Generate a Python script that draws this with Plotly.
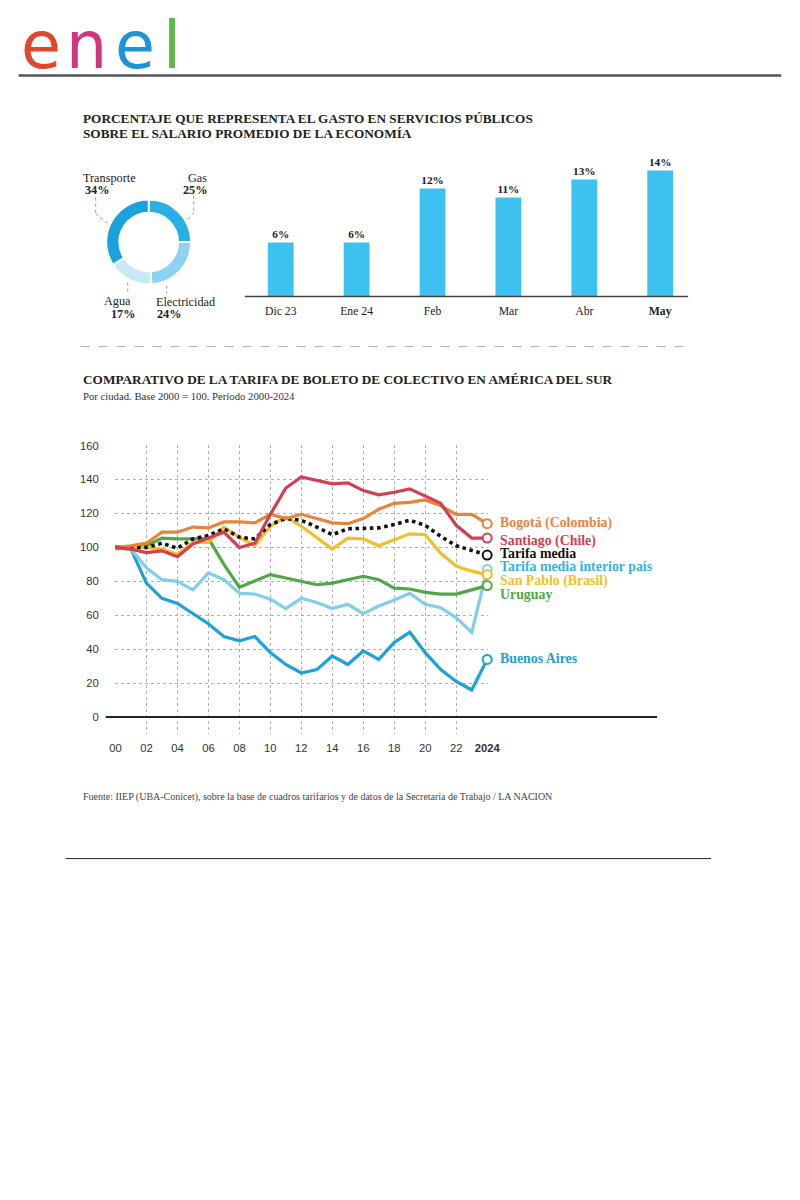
import plotly.graph_objects as go

W, H = 800, 1200
# measured screen transform of the rendered page (screen = S*fig + O)
SX, OX = 0.978, 4.4
SY, OY = 0.995, 5.4
def px(x): return ((x - OX) / SX) / W
def py(y): return 1 - ((y - OY) / SY) / H
FS = 1.02  # font compensation for horizontal squeeze

# ---------------- data ----------------
donut_labels = ["Gas", "Electricidad", "Agua", "Transporte"]
donut_values = [25, 24, 17, 34]
donut_colors = ["#2AAEE6", "#8DD3F1", "#C8E8F6", "#1BA2DE"]

bar_months = ["Dic 23", "Ene 24", "Feb", "Mar", "Abr", "May"]
bar_ticktext = ["Dic 23", "Ene 24", "Feb", "Mar", "Abr", "<b>May</b>"]
bar_values = [6, 6, 12, 11, 13, 14]

years = list(range(2000, 2025))
year_tickvals = list(range(2000, 2025, 2))
year_ticktext = ["00", "02", "04", "06", "08", "10", "12", "14", "16", "18", "20", "22", "<b>2024</b>"]

buenos_aires = [100, 99, 79, 70, 67, 61, 55, 47.5, 45, 47.5, 38, 31, 26, 28, 36, 31, 39, 34, 44, 50, 38, 28, 21, 16, 34]
interior_pais = [100, 99, 88, 81, 80, 75, 85, 81, 73, 72.5, 69.5, 64, 70, 67.5, 64, 66.5, 61, 65.5, 69, 73, 66.5, 64.5, 58.5, 50, 87]
uruguay = [100, 100, 101, 105.5, 105, 105, 105.5, 90, 76.5, 80, 84, 82, 80, 78, 79, 81, 83, 81, 76, 75.5, 73.5, 72.5, 72.5, 75, 77.5]
san_pablo = [99, 100, 100, 99, 96, 103, 103, 112, 106, 101, 112.5, 118, 112.5, 106, 99, 105.5, 105, 101, 104.5, 108, 107.5, 96.5, 89, 86, 84]
tarifa_media = [100, 100, 100, 102.5, 99.5, 105, 107, 111, 106, 105, 113.5, 117, 116, 112, 107.5, 111, 111.5, 111.5, 113.5, 116, 113, 106.5, 101, 98.5, 95.5]
bogota = [100, 101, 102.5, 109, 109, 112, 111.5, 115, 115, 114.5, 119.5, 117, 119.5, 117, 114.5, 114, 117, 122.5, 126, 126.5, 128, 124.5, 119.5, 119.5, 114]
santiago = [100, 99, 97, 98, 94.5, 102, 105.5, 109, 100, 102.5, 119.5, 135, 141.5, 139.5, 137.5, 138, 133.5, 131, 132.5, 134.5, 130.5, 126, 113, 105.5, 105.5]

series_names = ["Buenos Aires", "Tarifa media interior país", "Uruguay", "San Pablo (Brasil)",
                "Tarifa media", "Bogotá (Colombia)", "Santiago (Chile)"]
series_values = [buenos_aires, interior_pais, uruguay, san_pablo, tarifa_media, bogota, santiago]
series_line_colors = ["#1DA1D9", "#80CDEE", "#4FA745", "#F1BE2C", "#111111", "#E8843A", "#D33F4F"]
series_label_colors = ["#1DA1D9", "#3AAFDF", "#4FA745", "#F1BE2C", "#111111", "#E8843A", "#D33F4F"]
series_dash = ["solid", "solid", "solid", "solid", "dot", "solid", "solid"]
label_pixel_y = [658, 566, 594, 580, 553, 522, 540]

SERIF = "Liberation Serif"
SANS = "Liberation Sans"

fig = go.Figure()

# ---------------- donut ----------------
fig.add_trace(go.Pie(
    labels=donut_labels, values=donut_values, hole=0.69, sort=False,
    direction="clockwise", rotation=0,
    marker=dict(colors=donut_colors, line=dict(color="white", width=2)),
    textinfo="none", hoverinfo="skip", showlegend=False,
    domain=dict(x=[px(105.5), px(190.5)], y=[py(284), py(199)]),
))

# ---------------- bars ----------------
fig.add_trace(go.Bar(
    x=bar_months, y=bar_values, xaxis="x2", yaxis="y2",
    marker=dict(color="#3DC1F0", line=dict(width=0)),
    texttemplate="<b>%{y}%</b>", textposition="outside",
    textfont=dict(family=SERIF, size=11 * FS, color="#1a1a1a"),
    cliponaxis=False, showlegend=False, hoverinfo="skip",
))

# ---------------- lines ----------------
for name, vals, col, dash in zip(series_names, series_values, series_line_colors, series_dash):
    fig.add_trace(go.Scatter(
        x=years, y=vals, mode="lines", name=name,
        line=dict(color=col, width=3.2 if dash == "solid" else 3.6, dash=dash),
        showlegend=False, hoverinfo="skip", cliponaxis=False,
    ))
for name, vals, col in zip(series_names, series_values, series_line_colors):
    fig.add_trace(go.Scatter(
        x=[years[-1]], y=[vals[-1]], mode="markers",
        marker=dict(size=9, color="white", line=dict(color=col, width=2)),
        showlegend=False, hoverinfo="skip", cliponaxis=False,
    ))

annotations = []
for name, col, ly in zip(series_names, series_label_colors, label_pixel_y):
    annotations.append(dict(
        text=f"<b>{name}</b>", x=px(497), y=py(ly), xref="paper", yref="paper",
        xanchor="left", yanchor="middle", showarrow=False,
        font=dict(family=SERIF, size=13.6 * FS, color=col),
    ))

def add_text(t, x, y, size, color="#222", family=SERIF, xanchor="left"):
    annotations.append(dict(text=t, x=px(x), y=py(y), xref="paper", yref="paper",
                            xanchor=xanchor, yanchor="middle", showarrow=False,
                            font=dict(family=family, size=size * FS, color=color)))

# donut labels
add_text("Transporte", 80, 177, 12)
add_text("<b>34%</b>", 82, 189, 12)
add_text("Gas", 185, 177, 12)
add_text("<b>25%</b>", 180, 189, 12)
add_text("Agua", 101, 300, 12)
add_text("<b>17%</b>", 108, 313, 12)
add_text("Electricidad", 153, 301, 12)
add_text("<b>24%</b>", 154, 313, 12)

# titles
add_text("<b>PORCENTAJE QUE REPRESENTA EL GASTO EN SERVICIOS PÚBLICOS</b>", 80, 118, 13)
add_text("<b>SOBRE EL SALARIO PROMEDIO DE LA ECONOMÍA</b>", 80, 133, 13)
add_text("<b>COMPARATIVO DE LA TARIFA DE BOLETO DE COLECTIVO EN AMÉRICA DEL SUR</b>", 80, 379, 13)
add_text("Por ciudad. Base 2000 = 100. Período 2000-2024", 80, 395, 10.5, "#333")
add_text("Fuente: IIEP (UBA-Conicet), sobre la base de cuadros tarifarios y de datos de la Secretaría de Trabajo / LA NACION",
         80, 796, 9.8, "#444")

# logo
logo_letters = ["e", "n", "e", "l"]
logo_colors = ["#E0482C", "#D3357C", "#1E93D6", "#5DB84A"]
logo_x = [40, 86, 134, 171]
for letter, col, lx in zip(logo_letters, logo_colors, logo_x):
    annotations.append(dict(text=letter, x=px(lx), y=1, xref="paper", yref="paper",
                            xanchor="center", yanchor="top", showarrow=False,
                            font=dict(family="DejaVu Sans", size=65, color=col)))

# ---------------- shapes ----------------
shapes = [
    dict(type="line", xref="paper", yref="paper", x0=px(18), x1=px(780), y0=py(75), y1=py(75),
         line=dict(color="#555555", width=2.5)),
    dict(type="line", xref="paper", yref="paper", x0=px(244), x1=px(687), y0=py(296), y1=py(296),
         line=dict(color="#444444", width=1.5)),
    dict(type="line", xref="paper", yref="paper", x0=px(80), x1=px(690), y0=py(346), y1=py(346),
         line=dict(color="#AAAAAA", width=1, dash="dash")),
    dict(type="line", xref="paper", yref="paper", x0=px(105), x1=px(656), y0=py(716.5), y1=py(716.5),
         line=dict(color="#222222", width=2)),
    dict(type="line", xref="paper", yref="paper", x0=px(65), x1=px(710), y0=py(858), y1=py(858),
         line=dict(color="#222222", width=1)),
]
leaders = [
    [(95, 197), (95, 213), (107, 223)],
    [(193, 195), (193, 212), (187, 219)],
    [(127, 282), (127, 293)],
    [(166, 285), (166, 293)],
]
for pts in leaders:
    for (xa, ya), (xb, yb) in zip(pts[:-1], pts[1:]):
        shapes.append(dict(type="line", xref="paper", yref="paper",
                           x0=px(xa), x1=px(xb), y0=py(ya), y1=py(yb),
                           line=dict(color="#999999", width=1, dash="dot")))

fig.update_layout(
    width=W, height=H, margin=dict(l=0, r=0, t=0, b=0),
    paper_bgcolor="white", plot_bgcolor="rgba(0,0,0,0)",
    annotations=annotations, shapes=shapes, bargap=0.66,
    xaxis=dict(domain=[px(114), px(487)], range=[1999.95, 2024.05],
               tickvals=year_tickvals, ticktext=year_ticktext,
               showgrid=True, gridcolor="#AFAFAF", griddash="dot", gridwidth=1,
               zeroline=False, showline=False, ticks="", ticklabelstandoff=6,
               tickfont=dict(family=SANS, size=11 * FS, color="#333")),
    yaxis=dict(domain=[py(733), py(444.5)], range=[-9.72, 160.3],
               tickvals=list(range(0, 161, 20)), anchor="x",
               showgrid=True, gridcolor="#AFAFAF", griddash="dot", gridwidth=1,
               zeroline=False, showline=False, ticks="", ticklabelstandoff=15,
               tickfont=dict(family=SANS, size=11 * FS, color="#333")),
    xaxis2=dict(domain=[px(242), px(697)], anchor="y2", showgrid=False, zeroline=False,
                showline=False, ticks="", tickvals=bar_months, ticktext=bar_ticktext,
                ticklabelstandoff=6, tickfont=dict(family=SERIF, size=11.5 * FS, color="#222")),
    yaxis2=dict(domain=[py(296), py(152)], range=[0, 16], anchor="x2", visible=False),
)

fig.write_html("out.html", config={"displayModeBar": False},
               post_script="document.body.style.margin='0px';document.body.style.overflow='hidden';")
